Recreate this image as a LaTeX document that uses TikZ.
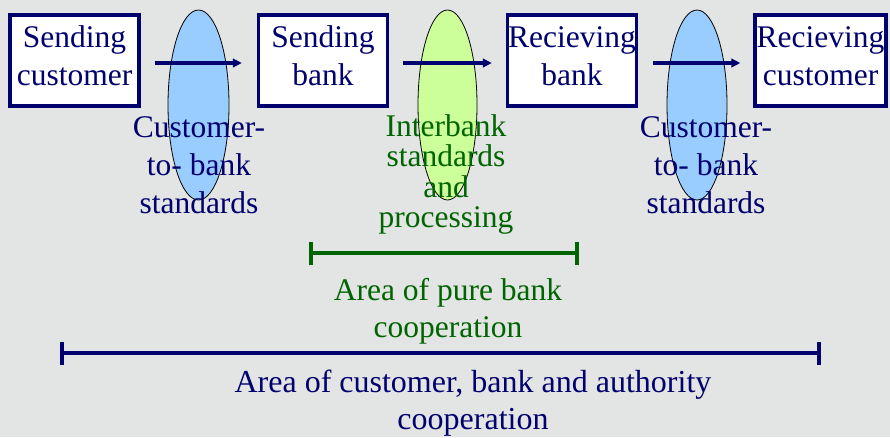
\documentclass[tikz,border=0pt]{standalone}
\usepackage{fontspec}
\setmainfont{Liberation Serif}
\usetikzlibrary{shapes.geometric,arrows.meta}
\definecolor{bg}{RGB}{227,228,228}
\definecolor{navyc}{RGB}{0,0,110}
\definecolor{greenc}{RGB}{0,100,0}
\definecolor{blueell}{RGB}{153,204,255}
\definecolor{greenell}{RGB}{204,255,153}
\tikzset{
  partybox/.style={draw=navyc, line width=3.3pt, fill=white, minimum width=129pt, minimum height=91pt, inner sep=0pt},
  boxtext/.style={text=navyc, align=center, inner sep=0pt, font=\fontsize{31.5}{38}\selectfont},
  stdell/.style={ellipse, draw=black, line width=0.8pt, minimum width=61pt, minimum height=190pt, inner sep=0pt},
  flow/.style={navyc, line width=3.2pt, -{Triangle[length=9pt,width=8.5pt]}},
  navylabel/.style={text=navyc, align=center, inner sep=0pt, font=\fontsize{31.5}{38}\selectfont},
  greenlabel/.style={text=greenc, align=center, inner sep=0pt, font=\fontsize{31.5}{37}\selectfont},
  span/.style={line width=4pt}
}
\begin{document}
\begin{tikzpicture}[x=1pt,y=-1pt]
\fill[bg] (0,0) rectangle (890,437);
\useasboundingbox (0,0) rectangle (890,437);
% ellipses
\node[stdell, fill=blueell] (e1) at (198.5,105) {};
\node[stdell, fill=greenell, minimum width=59pt] (e2) at (447.5,105) {};
\node[stdell, fill=blueell, minimum width=60pt] (e3) at (697,105) {};
% boxes
\node[partybox] (sc) at (74.5,60.5) {};
\node[partybox] (sb) at (323,60.5) {};
\node[partybox] (rb) at (572,60.5) {};
\node[partybox, minimum width=131pt] (rc) at (820.5,60.5) {};
\node[boxtext] (sct) at ([yshift=4.5pt]sc.center) {Sending\\customer};
\node[boxtext] (sbt) at ([yshift=4.5pt]sb.center) {Sending\\bank};
\node[boxtext] (rbt) at ([yshift=4.5pt]rb.center) {Recieving\\bank};
\node[boxtext] (rct) at ([yshift=4.5pt]rc.center) {Recieving\\customer};
% arrows
\draw[flow, shorten <=14pt, shorten >=15pt] ([yshift=-2.5pt]sc.east) -- ([yshift=-2.5pt]sb.west);
\draw[flow, shorten <=14pt, shorten >=14pt] ([yshift=-2.5pt]sb.east) -- ([yshift=-2.5pt]rb.west);
\draw[flow, shorten <=15pt, shorten >=13pt] ([yshift=-2.5pt]rb.east) -- ([yshift=-2.5pt]rc.west);
% labels
\node[navylabel] (l1) at (199,165) {Customer-\\to- bank\\standards};
\node[greenlabel, font=\fontsize{31.5}{30.5}\selectfont] (l2) at (446,174.5) {Interbank\\standards\\and\\processing};
\node[navylabel] (l3) at (706,165) {Customer-\\to- bank\\standards};
% spans
\coordinate (gl) at (311,253);
\coordinate (gr) at (577,253);
\draw[span, greenc] (gl) -- (gr);
\draw[span, greenc] ([yshift=11.5pt]gl) -- ([yshift=-11.5pt]gl);
\draw[span, greenc] ([yshift=11.5pt]gr) -- ([yshift=-11.5pt]gr);
\node[greenlabel] (pb) at (448,311.5) {Area of pure bank\\cooperation};
\coordinate (nl) at (62,353);
\coordinate (nr) at (819,353);
\draw[span, navyc] (nl) -- (nr);
\draw[span, navyc] ([yshift=11.5pt]nl) -- ([yshift=-11.5pt]nl);
\draw[span, navyc] ([yshift=11.5pt]nr) -- ([yshift=-11.5pt]nr);
\node[navylabel, font=\fontsize{32}{37}\selectfont] (ca) at (473,403) {Area of customer, bank and authority\\cooperation};
\end{tikzpicture}
\end{document}
